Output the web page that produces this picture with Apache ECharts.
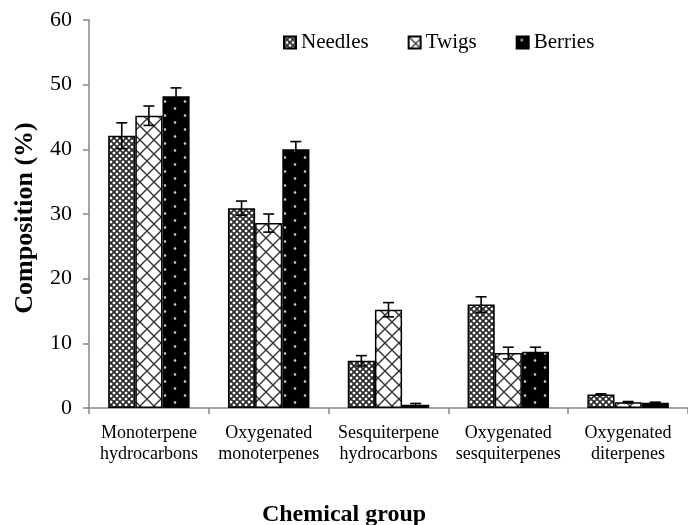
<!DOCTYPE html>
<html>
<head>
<meta charset="utf-8">
<script src="https://cdn.jsdelivr.net/npm/echarts@6/dist/echarts.min.js"></script>
<style>
html,body{margin:0;padding:0;background:#fff;}
#chart{width:688px;height:525px;}
</style>
</head>
<body>
<div id="chart"></div>
<script>
var categories = ['Monoterpene\nhydrocarbons', 'Oxygenated\nmonoterpenes', 'Sesquiterpene\nhydrocarbons', 'Oxygenated\nsesquiterpenes', 'Oxygenated\nditerpenes'];
var seriesNames = ['Needles', 'Twigs', 'Berries'];
var needles = [42.1, 30.9, 7.3, 16.0, 2.1];
var twigs = [45.2, 28.6, 15.2, 8.5, 0.9];
var berries = [48.2, 40.0, 0.5, 8.7, 0.8];
var needlesErr = [2.0, 1.1, 0.8, 1.2, 0.1];
var twigsErr = [1.5, 1.4, 1.1, 0.9, 0.1];
var berriesErr = [1.3, 1.2, 0.2, 0.7, 0.1];
var yTicks = [0, 10, 20, 30, 40, 50, 60];

var FONT = '"Liberation Serif", "Times New Roman", serif';

function makePattern(kind) {
  var c = document.createElement('canvas');
  var ctx;
  if (kind === 'needles') {
    c.width = 6; c.height = 6;
    ctx = c.getContext('2d');
    ctx.fillStyle = '#fff'; ctx.fillRect(0, 0, 6, 6);
    ctx.strokeStyle = '#2a2a2a'; ctx.lineWidth = 1.7;
    ctx.beginPath();
    ctx.moveTo(-1, -1); ctx.lineTo(7, 7);
    ctx.moveTo(7, -1); ctx.lineTo(-1, 7);
    ctx.stroke();
  } else if (kind === 'twigs') {
    c.width = 14; c.height = 14;
    ctx = c.getContext('2d');
    ctx.fillStyle = '#fff'; ctx.fillRect(0, 0, 14, 14);
    ctx.strokeStyle = '#333'; ctx.lineWidth = 1.4;
    ctx.beginPath();
    ctx.moveTo(-1, -1); ctx.lineTo(15, 15);
    ctx.moveTo(15, -1); ctx.lineTo(-1, 15);
    ctx.stroke();
  } else {
    c.width = 20; c.height = 14;
    ctx = c.getContext('2d');
    ctx.fillStyle = '#000'; ctx.fillRect(0, 0, 20, 14);
    ctx.fillStyle = '#cfcfcf';
    ctx.beginPath(); ctx.arc(5, 3.5, 1.3, 0, Math.PI * 2); ctx.fill();
    ctx.beginPath(); ctx.arc(15, 10.5, 1.3, 0, Math.PI * 2); ctx.fill();
  }
  return { image: c, repeat: 'repeat' };
}

var values = [needles, twigs, berries];
var errs = [needlesErr, twigsErr, berriesErr];
var patterns = [makePattern('needles'), makePattern('twigs'), makePattern('berries')];

var BAR_CAT_GAP = 0.32;

var series = [];
seriesNames.forEach(function (name, i) {
  series.push({
    name: name,
    type: 'bar',
    data: values[i],
    barGap: '0%',
    barCategoryGap: (BAR_CAT_GAP * 100) + '%',
    itemStyle: { color: patterns[i], borderColor: '#000', borderWidth: 1.5 },
    emphasis: { disabled: true },
    z: 2
  });
});
seriesNames.forEach(function (name, i) {
  series.push({
    name: name + ' error',
    type: 'custom',
    z: 5,
    data: values[i].map(function (v, k) { return [k, v, errs[i][k]]; }),
    renderItem: function (params, api) {
      var idx = api.value(0), v = api.value(1), e = api.value(2);
      var catW = api.size([1, 0])[0];
      var bw = catW * (1 - BAR_CAT_GAP) / 3;
      var off = (i - 1) * bw;
      var top = api.coord([idx, v + e]);
      var bot = api.coord([idx, v - e]);
      var x = top[0] + off;
      var cap = 5.5;
      var style = { stroke: '#000', lineWidth: 1.6, fill: null };
      return {
        type: 'group',
        children: [
          { type: 'line', shape: { x1: x, y1: top[1], x2: x, y2: bot[1] }, style: style },
          { type: 'line', shape: { x1: x - cap, y1: top[1], x2: x + cap, y2: top[1] }, style: style },
          { type: 'line', shape: { x1: x - cap, y1: bot[1], x2: x + cap, y2: bot[1] }, style: style }
        ]
      };
    }
  });
});

var chart = echarts.init(document.getElementById('chart'), null, { renderer: 'canvas' });
chart.setOption({
  animation: false,
  backgroundColor: '#fff',
  textStyle: { fontFamily: FONT },
  grid: { left: 89, top: 20, width: 606.5, height: 388, containLabel: false },
  legend: {
    data: seriesNames,
    left: 278, top: 27,
    itemWidth: 12, itemHeight: 12, itemGap: 39,
    icon: 'rect',
    textStyle: { fontFamily: FONT, fontSize: 21, color: '#000' },
    selectedMode: false
  },
  xAxis: {
    type: 'category',
    data: categories,
    axisLine: { lineStyle: { color: '#888', width: 1.5 } },
    axisTick: { show: true, length: 6, lineStyle: { color: '#888', width: 1.5 }, alignWithLabel: false },
    axisLabel: { fontFamily: FONT, fontSize: 18, color: '#000', lineHeight: 21, margin: 15, interval: 0 }
  },
  yAxis: {
    type: 'value',
    min: yTicks[0], max: yTicks[yTicks.length - 1], interval: 10,
    splitLine: { show: false },
    axisLine: { show: true, lineStyle: { color: '#888', width: 1.5 } },
    axisTick: { show: true, length: 6, lineStyle: { color: '#888', width: 1.5 } },
    axisLabel: { fontFamily: FONT, fontSize: 22, color: '#000', margin: 17 }
  },
  graphic: [
    { type: 'text', left: 'center', top: 503, style: { text: 'Chemical group', font: 'bold 24px ' + FONT, fill: '#000' } },
    { type: 'text', x: 25, y: 218, rotation: Math.PI / 2, style: { text: 'Composition (%)', font: 'bold 26px ' + FONT, fill: '#000', textAlign: 'center', textVerticalAlign: 'middle' } }
  ],
  series: series
});
</script>
</body>
</html>
